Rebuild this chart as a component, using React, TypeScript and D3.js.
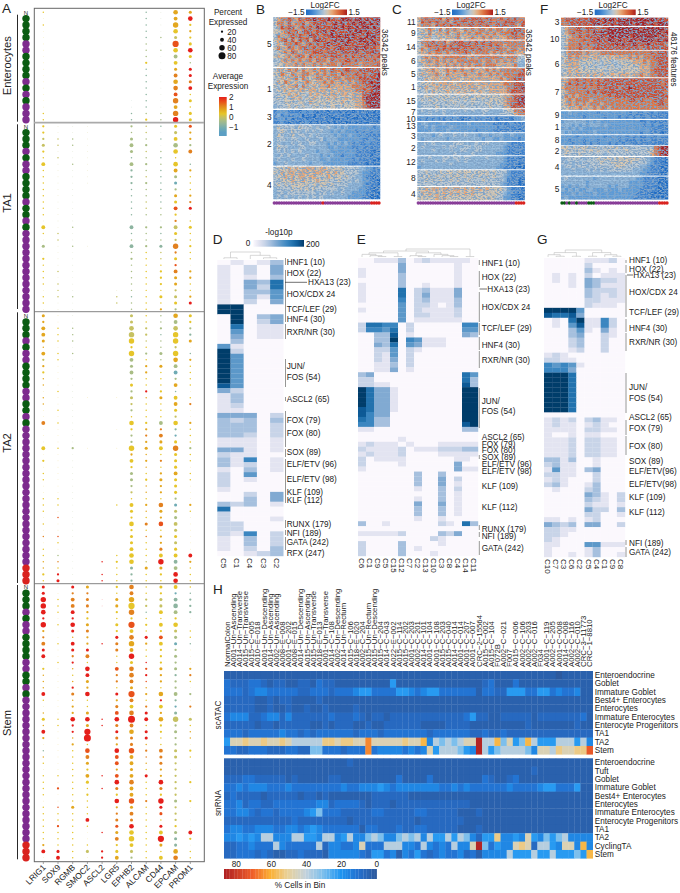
import React from "react";
import * as d3 from "d3";

const FONT = "'Liberation Sans', Arial, sans-serif";

// ---------- Panel A: dot plot ----------
const genes = ["LRIG1","SOX9","RGMB","SMOC2","ASCL2","LGR5","EPHB2","ALCAM","CD44","EPCAM","PROM1"];
const facetNames = ["Enterocytes","TA1","TA2","Stem"];
const sampleEnt = "NGGGGPPGGGGPGPGPPP";
const sampleTA1 = "NGGGPGPPGGGGPGGPGPPPPPPPPPPPPP";
const sampleTA2 = "NGGGPGPPGGGGPPGGPGPPPPPPPPPPPPPPPPPPPPPPRRR";
const sampleStem = "NGGGPGPPGGGGPPGGPGPPPPPPPPPPPPPPPPPPPPPPPRRR";

// size digits: tens of percent expressed; colour digits: expression class. "." = no dot. One char = whole column.
const entSize = [
 "101000000000000011",".",".",".",".",".",
 "..............0011","111111112111111112","000010100000000011",
 "546537544345546466","352223531333413133"];
const entColor = ["5","5","5","5","5","5","2","222223335222222235","3",
 "666548535676787679","695655953997955555"];
const ta1Size = [
 "2223214111 1111104103 0211110110","0011010000 0000000110 0001011100","0011001000 0000001001 0000000100",
 "0000000000 .........0 ..........",".",".......... .......... ......011.",
 "2134314222 1111104114 1211111111","1112112112 1111102112 1111111111","1010111111 1111102113 1112221312",
 "3345515433 2334224326 2324332332","3222401211 1223013112 1102211230"];
const ta1Color = [
 "5544555555 5555555553 5555555555","4","3","4","4","4",
 "3333323222 2222222232 3333333233","4433433343 3344333333 5555555555","2222323222 2223323232 4455555556",
 "5453555631 3658574547 7587664453","8663752655 5679555555 5556655695"];
const ta2Size = [
 "3244314222 1101100400 0402011001 1101010111 121","0011101100 0010010100 0100000001 1010011011 123",
 "0011101000 0000000000 0200000000 0000000000 000",".......... ...0...... .0........ .......... ...",
 ".......... .......... .......... .........1 .11",".......... ...0....0. .0........ 1....... 12 111",
 "3356626434 2323221522 2624233221 4325233455 322","1122112122 1121111222 2312112111 2113111111 311",
 "1121113131 1123111424 3412123221 5325122346 321","5456626544 2414432522 3633343332 3334333344 455",
 "3222301211 1101200211 1211011000 2100000042 111"];
const ta2Color = [
 "6666666465 6656655755 5555555555 5555575556 655","5555555555 5555555555 5555555555 5585585537 599","3","5","9","5",
 "4444555333 3534435553 3565533345 5555555555 222","5544453566 5596555567 6666655665 6657575554 655",
 "3332333365 5556555377 6557566665 7668566759 655","6345545631 3625654521 5755565553 1434454552 399",
 "5532652655 5555755655 5355555555 6555555596 555"];
const stemSize = [
 "3366526224 3402111410 1314201110 1111011111 1240","0011101001 0010000000 0110000000 1020011121 1134",
 "3244425314 3221112312 2522121111 1111131111 1111","3233223322 3415432511 3537815432 4312111410 0130",
 "..00.....1 .......... .11....... 1.1......1 ..22","2133213233 3114221323 4533325442 4532522333 4234",
 "5467627456 4635543744 5845336443 4544634355 6432","1122112132 1112211212 3413312111 3111211111 1111",
 "3233414244 2223221524 2522114332 2532633134 7314","4245425333 2323222422 3623223322 2222322223 3355",
 "1122200111 0002210202 0311102100 0200200004 2011"];
const stemColor = [
 "9999999677 9955666955 6569652655 5555555555 5695","5555555555 5555555555 5555555555 5585585585 5599",
 "9777999969 9796569766 6999665555 5555565555 5555","6777656766 9759966955 6969958765 6555555955 5545",
 "9","5566555597 7558775967 8979769886 8975967786 7556",
 "7765758576 6957776875 7976778666 6766867795 5543","5544255596 5598986657 9969967765 9555755555 5555",
 "5544555585 5556665695 6655557776 6975998595 9655","5122355431 3333233321 2433334444 4444344453 2267",
 "5222255552 5556755357 5456655555 5555555559 5555"];

const exprDomain = [-1.6,-1.2,-0.8,-0.4,-0.05,0.3,0.7,1.1,1.5,2];
const exprColors = ["#5c9fc4","#6fabb4","#8db4a0","#a9bd85","#c6c162","#e6c52a","#e3a71f","#e2811f","#e8521b","#e51f1b"];

// ---------- Panels B, C, F: log2FC heatmaps (one string = one row, digits = fold-change class) ----------
const b5 = ["467787687889888988899989989899","577686778678889789898898998989","468788678787988889898989899898","556787868887889798888989989889","476678787798878898989898889998","567868687868988789898988998988","465777876787878988889888889898","576687678878788878988889898887","456768767778887888798889788898","565676787687778788878787887878","446767676776877687778878778787","455666767667676777687777677778"];
const b1 = ["466576757667677687778877888888","557657667766767677687778787889","456566757656776767767777888889","465765656765667676676767788989","546566747656566766666677778899","455656566566566565666667787899","445565655465656566566566688999","454546564556555656556566689999","444555455465555555565556679999","344454545445545455455556678999"];
const b3 = ["122211102121011011010101100101","131211210110101001101010010000","122120111010110100010100100010","112101101201001010100010010100"];
const b2 = ["354444354443433432323222222212","345435443434343323232221212121","354345344343433332322322121111","344434433433342333222222211211","343334343344333232323212112111","354433344333333223222211211111","343434343333233322222221111100","334343333433323232212221111011","343334334333322322222212111100","233433333323332222222111110100"];
const b4 = ["455565656666566555554444332211","546566566656665656554444322111","455656566566555655545443321101","445556556555655544544434322110","454545555545455454444333321110","344445454545444444343333221100","344344444444344343343322221100","343434343434343333333222211000"];
const bClusters = [b5,b1,b3,b2,b4];
const bIds = ["5","1","3","2","4"];

const c11 = ["678787868788788888788778787877","587878778687887878878787888878","677768787878778878787788878768"];
const c9 = ["556764757676576767767677677887","465756667567667677676767778878","556645656667566766767666677877"];
const c14 = ["577787786788878787878777777777","467878787878888787878787677777","576778787888787878777787767767","566767767677787677776767677666"];
const c6 = ["467677677777776767777777677754","566767676767777777677676767643","456667667676767677677766666733"];
const c5 = ["456676567676766766676767777778","565667657666676667667676777788","446566566666566666666667677888"];
const c1 = ["455565666656666656666666777888","546556565665656665656666677889","445465556556565656556666678888"];
const c15 = ["445554555454555455555555667889","454545454545454554545555677899","344454445454444544455455678899","344445444444544444445444668888"];
const c7 = ["343434343334343433443333455778","333433343343333333433334445677"];
const c10 = ["121212112121011211211101110223"];
const c13 = ["233222232222223222222111112111","223232222322222222222212111111","222232223222222212222111111101"];
const c3 = ["333323433343343332332333223222","323333332333333333233223222212"];
const c2 = ["334343333344433343443333321111","343333343443344344333333211101","333343333433443344333333211111","333333333343333433333322211101"];
const c12 = ["333433344344344333343333211100","343334343334343333333333211111","333333333433333333333332211100","233333333333333333333322111000"];
const c8 = ["445444545545555455554544421111","454545454555454545454544321111","445454544545445444544444311100","444444444444444444444443211100"];
const c4 = ["556566566566565656565555421110","465656565656565655555554321101","555556565555555555555544221100"];
const cClusters = [c11,c9,c14,c6,c5,c1,c15,c7,c10,c13,c3,c2,c12,c8,c4];
const cIds = ["11","9","14","6","5","1","15","7","10","13","3","2","12","8","4"];

const f3 = ["788888889898999899999999999898","778888888998989899998999898999"];
const f10 = ["467788788878899999999989999998","467878787989999999999999999989","556778788889899999989999999898","467777878898899898899899998989","457778787888888989889888988887","467778777888888888888878888888"];
const f6 = ["467777676667777777777777787888","557676665665565666676767778888","466665555454554455556667677888","556665454544545445555566677888","456565555555455555555566678888","556566565656556566656676677888"];
const f7 = ["667787878787888888888888888878","578787878788888888888888888878","677777877787888878898888888888","567777787878888888888888888887","576767777777787888888888888888","567677776777777777788787778887","567676767776777777777777777887","556667666767767777777777777777"];
const f9 = ["223222222212222222212112112111","222222122222122212121211211111"];
const f1 = ["233333323232222222222211211111","333232323332322222222221212111","232323222222222222222222211111","323222222322222222222212211101"];
const f8 = ["222212222222121212121211211211","221222122212222212111211211111","222122121212212121211111111111"];
const f2 = ["554545554544545545444444447899","455454545454454444544444557899","454445444444344444444444467899"];
const f4 = ["344444344454554555555544321110","434343444445445555554444321100","344344434444444555444433211100","333433343434344444443332211100","333333333333333333333322111000"];
const f5 = ["343333333233333333333221111000","333333323333333333322221111000","232323323333323233322221111000","323232233222322232222211111000","222323222322222222222111100000","232222222222222222221111100000"];
const fClusters = [f3,f10,f6,f7,f9,f1,f8,f2,f4,f5];
const fIds = ["3","10","6","7","9","1","8","2","4","5"];

const stripB = "PPPPPPPPPPPPPPPPPPPPRPPPPPPPPPPPPPPPPPPPRRRR";
const stripC = "PPPPPPPPPPPPPPPPPPPPPPPPPPPPPPPPPPPPPPPPRRRR";
const stripF = "GGPGPPGPPPPGGGPPPPPPPPPPPPPPPPPPPPPPPPPPRRRR";

const fcDomain = [-1.5,-1.1,-0.8,-0.45,-0.15,0.1,0.4,0.8,1.15,1.5];
const fcColors = ["#1f6cc4","#3c80cd","#5c9ad6","#8eb5d8","#b9c6d0","#d4c4ae","#e6a878","#dc7444","#cc4a2c","#a81f1f"];

// ---------- Panels D, E, G: motif enrichment (-log10p classes) ----------
const motifD = ["01013","10204","10204","10103","10437","10427","10335","10315","10204","99000","99000","09034","09024","07011","05011","04011","03000","51000","92000","95000","95000","95000","95000","95000","95000","85000","42000","13000","13000","12000","11000","44402","32303","33302","33302","33202","11101","11101","44101","21100","31601","31201","10301","20500","20100","20000","10000","00204","00304","32301","70000","20000","20001","22000","22000","21602","10302","10302","10203","00123"];
const motifE = [
"001113012111110","000004000000100","100004000000100","100003000000100","000003000000100","100003001000100",
"100007023111400","100007024111400","100006023111300","000005022101300","100005021111200","000005022111200","000005011111100",
"277660200000066","266570200000055","003380100000043","003390651110000","004370541110000","002250210000000","002150200000000","002140200000000","001130200000000","001140100000000",
"340000000000075","220000000000073","221100000000083",
"974410000000099","974410000000099","974410000000099","974410000000099","874410000000099","864400000000099","763300000000099","663300000000089",
"110000000000033","000000000000000","000001000000000","121110100011111","211112011122233","121112000011111","201111000000110","200001000000400","100000000000411",
"000000030030000","000000030040200","000000030040100","000000010030200","000000000030100","000000010030100","000000040040100","000000030030100",
"000000030030100","000000010010000","300100000021073","000000000000000","111112000032400","000000000210000","200003000010000","200003010000000","200003000100000"];
const motifG = ["0000011120","0000020000","0000031010","0101020111","0101043221","0001043111","0000032221","0000032121","0000022111","0000021110","9999500000","8778400000","0107911620","0105811620","0003510410","0003400210","0002300200","0002300200","0001200200","1210000000","2211000000","6565100000","6664000000","9997000000","9997000000","9997000000","9997000000","9997000000","9997000000","9997000000","9997000000","0000000000","1212023110","1211012100","1111022110","1001011000","1112022110","1112022110","1112022110","1112022110","3313001000","2311001000","1511034000","2211002000","1210002000","2310013000","0100023000","0000043102","0000032102","0000021101","0000042203","0000022001","1101012000","4323044002","2211000000","2210000000","2100000000","1100055111","1000013000","1001013001"];
const colsD = ["C5","C1","C4","C3","C2"];
const colsE = ["C6","C1","C9","C5","C15","C12","C7","C2","C13","C10","C3","C8","C4","C14","C11"];
const colsG = ["C10","C7","C3","C6","C2","C5","C4","C1","C9","C8"];
const motifStops = ["#fbf8fd","#e3e4f1","#c8d4e8","#a6c0de","#81aad2","#5c98c9","#3b86c0","#2272ae","#0f5a96","#053c6b"];

const labelsD: [string,number][] = [["HNF1 (10)",261.7],["HOX (22)",273],["HOX/CDX 24",293.7],["TCF/LEF (29)",309],["HNF4 (30)",318.7],["RXR/NR (30)",332],["JUN/",365.7],["FOS (54)",376.7],["ASCL2 (65)",399],["FOX (79)",419.7],["FOX (80)",433.3],["SOX (89)",452.3],["ELF/ETV (96)",463.7],["ELF/ETV (98)",479.3],["KLF (109)",492.3],["KLF (112)",499.7],["RUNX (179)",524],["NFI (189)",533.3],["GATA (242)",542.3],["RFX (247)",553.3]];
const labelsE: [string,number][] = [["HNF1 (10)",262.7],["HOX (22)",277.3],["HOX/CDX 24",306.7],["TCF/LEF (29)",328.3],["HNF4 (30)",344.7],["RXR/NR (30)",359.7],["JUN/",400.7],["FOS (54)",411],["ASCL2 (65)",437.3],["FOX (79)",444],["FOX (80)",450.3],["SOX (89)",457],["ELF/ETV (96)",464],["ELF/ETV (98)",470.7],["KLF (109)",486],["KLF (112)",507],["RUNX (179)",529],["NFI (189)",535.7],["GATA (242)",548.3]];
const labelsG: [string,number][] = [["HNF1 (10)",260.3],["HOX (22)",268.7],["HOX/CDX 24",291.7],["TCF/LEF (29)",312],["HNF4 (30)",328],["RXR/NR (30)",342],["JUN/",387.3],["FOS (54)",397.7],["ASCL2 (65)",417.3],["FOX (79)",428.3],["FOX (80)",445.7],["SOX (89)",460.7],["ELF/ETV(96)",471.3],["ELF/ETV(98)",484],["KLF (109)",497],["KLF (112)",511.7],["NFI (189)",542.7],["GATA (242)",551.7]];
const barsD = [[258,265],[270,305],[305,322],[324,339],[359,387],[397,401],[411,427],[427,447],[449,457],[459,489],[489,503],[520,528],[530,535],[537,550]];
const barsE = [[260,265],[271,287],[292,322],[323,335],[337,350],[351,368],[388,428],[455,459],[525,530],[532,537],[541,555]];
const barsG = [[260,263],[265,273],[275,307],[307,317],[319,332],[333,351],[373,413],[420,435],[436,455],[540,545],[547,557]];

// ---------- Panel H ----------
const samples = ["NormalColon","A001−Un−Ascending","A014−Un−Transverse","A015−Un−Transverse","A015−C−005","A010−E−018","A001−Un−Descending","A014−Un−Ascending","A002−Un−Ascending","A008−E−008","A001−C−202","A008−E−015","A014−Un−Descending","A015−Un−Ascending","A015−Un−Transverse","A018−E−013","A001−Un−Transverse","A014−C−108","A002−Un−Descending","A014−Un−Rectum","A015−C−106","A018−E−020","A002−C−204","A015−Un−Rectum","A015−Un−Descending","A015−C−204","A014−C−043","A022−E−002","A015−C−114","A015−C−202","A001−C−203","A002−C−201","A014−C−101","A001−C−104","A001−C−108","A015−C−203","A015−C−040","A014−C−014","A001−C−014","A001−C−207","A001−C−007","CRC−2−15564","A015−C−002","A015−C−104","F072B","A002−C−021","F007","A015−C−006","A002−C−106","A002−C−203","A002−C−016","F034","A001−C−119","A002−C−205","A001−C−008","A014−C−008","A002−C−116","A002−C−010","CRC−3−11773","CRC−1−8810"];
const atacRows = ["Enteroendocrine","Goblet","Immature Goblet","Best4+ Enterocytes","Enterocytes","Immature Enterocytes","Enterocyte Progenitors","TA1","TA2","Stem"];
const atacCells = [
"1111111111 1111111111 1111111111 1111111111 1111111111 1111011111",
"3222332122 1122132211 1111111511 1111111111 1123111311 1111111111",
"3332344333 3322333233 3455333355 4345533333 3133225553 3553433411",
"2222211212 2111121111 1111111111 1111111111 1111111111 1111111111",
"2222211211 2112112111 1211111111 1111111111 1111111111 1111111111",
"3444223442 4222222322 2321221222 2222222223 5221122222 1222222231",
"2222212212 2222112122 2112112222 2211112222 1111111112 1111111211",
"3332333334 3323233333 3233323333 3332333333 2232232222 2222222222",
"5889889889 8777779989 988b888889 88a4767678 8d77a6856a 7555777574",
"3322333222 3322663332 333b344443 4348577765 4d75677776 488798899c"];
const rnaRows = ["Enteroendocrine","Tuft","Goblet","Immature Goblet","Best4+ Enterocytes","Enterocytes","Immature Enterocytes","Enterocyte Progenitors","TA1","TA2","CyclingTA","Stem"];
const rnaCells = [
"1111111111 1111111111 2111111111 1111111111 1111111111 1111111111",
"1111111111 1111111111 1111111111 1111111111 1111111111 2111111111",
"2223322222 1211111221 1111111131 1113111111 1132112311 1111111111",
"3343444333 4333333334 3344454344 4444433434 3333334333 3455333511",
"2322221222 2212212111 1111222222 1111111111 1111111111 1111111111",
"3342332233 3333344233 3321222122 2222222222 1111111111 1111111111",
"3344323323 3334563332 2222332222 2332222211 1211111111 1111111111",
"2222222222 2322222222 1222222222 2122222221 1111111111 1111111111",
"3443344433 4434543333 3313322232 2332222211 1211111111 1111111111",
"4454547744 4775547745 7446764467 6747557576 4255944548 5465674444",
"2233433374 3333372443 3483337774 4374343744 8d63544898 27754884a4",
"2233323211 2232221444 4432553414 3532343342 3144447555 755755565a"];
const cellLevels = [0,3,7,11,16,21,30,38,46,52,58,65,72,85];
const cellDomain = [0,10,20,30,40,50,60,70,87];
const cellColors = ["#2d5a9e","#2470cf","#1e96f2","#7dbfec","#c4d2dc","#e8d19a","#fbb034","#f0602a","#ab1c22"];
const cellTicks = [80,60,40,20,0];

const sampleFill: Record<string,string> = { G:"#0a5c12", P:"#7d2b8e", R:"#d9231f" };

const clean = (s: string) => s.replace(/\s/g,"");
const Txt = (p: any) => <text fontFamily={FONT} fontSize={8.2} fill="#222" {...p} />;

function rowsOf(s: string, n: number): (number|null)[] {
  const t = clean(s);
  return d3.range(n).map((i) => {
    const ch = t.length === 1 ? t : t[i] ?? "0";
    return ch === "." ? null : +ch;
  });
}

function DotPanel() {
  const x = d3.scalePoint<string>().domain(genes).range([43.3,190.3]);
  const r = d3.scaleLinear().domain([0,80]).range([0.35,3.5]);
  const color = d3.scaleLinear<string>().domain(exprDomain).range(exprColors).clamp(true);
  const facets = [
    { samples: sampleEnt, size: entSize, col: entColor, y0: 12.3, y1: 119.7, bar: [14.7,121.7] },
    { samples: sampleTA1, size: ta1Size, col: ta1Color, y0: 126.3, y1: 309.3, bar: [124.3,309] },
    { samples: sampleTA2, size: ta2Size, col: ta2Color, y0: 315.7, y1: 580.7, bar: [312.3,583] },
    { samples: sampleStem, size: stemSize, col: stemColor, y0: 587, y1: 857.7, bar: [585,859.3] },
  ];
  const centers = [65.7,203,443,723];
  return (
    <g>
      {facets.map((f, fi) => {
        const n = f.samples.length;
        const y = d3.scaleLinear().domain([0,n-1]).range([f.y0,f.y1]);
        return (
          <g key={fi}>
            <line x1={17.5} x2={17.5} y1={f.bar[0]} y2={f.bar[1]} stroke="#111" strokeWidth={0.9} />
            {f.samples.split("").map((s, i) =>
              s === "N" ? (
                <Txt key={i} x={26} y={y(i)+2.2} fontSize={6} textAnchor="middle">N</Txt>
              ) : (
                <circle key={i} cx={26} cy={y(i)} r={3.7} fill={sampleFill[s]} />
              )
            )}
            {genes.map((g, gi) => {
              const ss = rowsOf(f.size[gi], n);
              const cs = rowsOf(f.col[gi], n);
              return ss.map((sv, i) =>
                sv === null ? null : (
                  <circle key={g+i} cx={x(g)!} cy={y(i)} r={r(sv*10)} fill={color(exprDomain[cs[i] ?? 5])} fillOpacity={sv===0?0.55:1} />
                )
              );
            })}
            <Txt x={0} y={0} fontSize={11.2} textAnchor="middle" transform={`translate(11,${centers[fi]}) rotate(-90)`}>{facetNames[fi]}</Txt>
          </g>
        );
      })}
      <rect x={34.3} y={8.3} width={170} height={853.4} fill="none" stroke="#666" strokeWidth={1} />
      <line x1={34} x2={204} y1={122.7} y2={122.7} stroke="#aaa" strokeWidth={1.8} />
      <line x1={34} x2={204} y1={311.7} y2={311.7} stroke="#777" strokeWidth={0.9} />
      <line x1={34} x2={204} y1={583.7} y2={583.7} stroke="#777" strokeWidth={0.9} />
      {genes.map((g) => (
        <g key={g}>
          <line x1={x(g)!} x2={x(g)!} y1={862} y2={864} stroke="#666" strokeWidth={0.6} />
          <Txt textAnchor="end" fontSize={8.4} transform={`translate(${x(g)!+3},${868}) rotate(-45)`}>{g}</Txt>
        </g>
      ))}
    </g>
  );
}

function DotLegend() {
  const r = d3.scaleLinear().domain([0,80]).range([0.35,3.5]);
  const sizes = [20,40,60,80];
  const ey = d3.scaleLinear().domain([2,-1]).range([97,126.7]);
  return (
    <g>
      <Txt x={228} y={15} textAnchor="middle">Percent</Txt>
      <Txt x={228} y={25} textAnchor="middle">Expressed</Txt>
      {sizes.map((s,i) => (
        <g key={s}>
          <circle cx={222} cy={31.7+i*8} r={r(s)} fill="#111" />
          <Txt x={227.3} y={34.7+i*8}>{s}</Txt>
        </g>
      ))}
      <Txt x={228} y={78.5} textAnchor="middle">Average</Txt>
      <Txt x={228} y={88.5} textAnchor="middle">Expression</Txt>
      <defs>
        <linearGradient id="exprG" x1="0" y1="1" x2="0" y2="0">
          {exprDomain.map((d,i) => <stop key={i} offset={(d+1.95)/3.95} stopColor={exprColors[i]} />)}
        </linearGradient>
      </defs>
      <rect x={219} y={97} width={7.7} height={39} fill="url(#exprG)" />
      {[2,1,0,-1].map((t) => (
        <Txt key={t} x={229} y={ey(t)+3}>{t<0?`−${-t}`:t}</Txt>
      ))}
    </g>
  );
}

function FCLegend({ barX, midX }: { barX: number; midX: number }) {
  return (
    <g>
      <Txt x={midX} y={7.8} textAnchor="middle">Log2FC</Txt>
      <Txt x={barX-1.5} y={15} textAnchor="end">−1.5</Txt>
      <rect x={barX} y={9.5} width={41} height={5.6} fill="url(#fcG)" />
      <Txt x={barX+42.5} y={15}>1.5</Txt>
    </g>
  );
}

function FCHeatmap({ clusters, ids, extents, labelYs, x0, x1, strip, side, sideX, sideY }: any) {
  const nCol = clusters[0][0].length;
  const x = d3.scaleBand<number>().domain(d3.range(nCol)).range([x0,x1]);
  const color = d3.scaleLinear<string>().domain(fcDomain).range(fcColors);
  const sx = d3.scalePoint<number>().domain(d3.range(strip.length)).range([x0+1,x1-1]);
  return (
    <g>
      <g filter="url(#grain)">
        {clusters.map((rows: string[], k: number) => {
          const y = d3.scaleBand<number>().domain(d3.range(rows.length)).range(extents[k]);
          return rows.map((row, ri) =>
            row.split("").map((ch, ci) => (
              <rect key={k+"_"+ri+"_"+ci} x={x(ci)!} y={y(ri)!} width={x.bandwidth()+0.2} height={y.bandwidth()+0.2} fill={color(fcDomain[+ch])} />
            ))
          );
        })}
      </g>
      {ids.map((id: string, k: number) => (
        <Txt key={id} x={x0-1.6} y={labelYs[k]+3} textAnchor="end" fontSize={8.4}>{id}</Txt>
      ))}
      {strip.split("").map((s: string, i: number) => (
        <circle key={i} cx={sx(i)!} cy={203} r={1.7} fill={sampleFill[s]} opacity={s==="P"?0.9:1} />
      ))}
      <Txt transform={`translate(${sideX},${sideY}) rotate(90)`} fontSize={8.2}>{side}</Txt>
    </g>
  );
}

function Dendro({ tree, x, yBase, h }: any) {
  const segs: [number,number][][] = [];
  const height = (n: any): number => (typeof n === "number" ? 0 : 1 + Math.max(height(n[0]), height(n[1])));
  const H = height(tree);
  const yh = d3.scalePow().exponent(1.6).domain([0,H]).range([yBase,yBase-h]);
  const walk = (n: any): [number,number] => {
    if (typeof n === "number") return [x(n), yBase];
    const a = walk(n[0]), b = walk(n[1]);
    const y = yh(height(n));
    segs.push([[a[0],a[1]],[a[0],y],[b[0],y],[b[0],b[1]]]);
    return [(a[0]+b[0])/2, y];
  };
  walk(tree);
  const line = d3.line();
  return <g>{segs.map((s,i) => <path key={i} d={line(s)!} fill="none" stroke="#bdbdbd" strokeWidth={0.6} />)}</g>;
}

function MotifHeatmap({ data, cols, x0, x1, y0, y1, tree, labels, labelX, bars, barX, hxa, dendH }: any) {
  const x = d3.scaleBand<string>().domain(cols).range([x0,x1]);
  const y = d3.scaleBand<number>().domain(d3.range(data.length)).range([y0,y1]);
  const color = d3.scaleLinear<string>().domain(d3.range(10)).range(motifStops);
  const xc = (i: number) => x(cols[i])! + x.bandwidth()/2;
  return (
    <g>
      <g filter="url(#soft)">
        {data.map((row: string, ri: number) =>
          row.split("").map((ch, ci) => (
            <rect key={ri+"_"+ci} x={x(cols[ci])!} y={y(ri)!} width={x.bandwidth()+0.2} height={y.bandwidth()+0.2} fill={color(+ch)} />
          ))
        )}
      </g>
      <Dendro tree={tree} x={xc} yBase={y0-1} h={dendH} />
      {cols.map((c: string) => (
        <Txt key={c} fontSize={8} transform={`translate(${x(c)!+x.bandwidth()/2-3},${y1+2}) rotate(90)`}>{c}</Txt>
      ))}
      {bars.map((b: number[], i: number) => (
        <line key={i} x1={barX} x2={barX} y1={b[0]} y2={b[1]} stroke="#8a8a8a" strokeWidth={0.9} />
      ))}
      {labels.map((l: [string,number]) => (
        <Txt key={l[0]+l[1]} x={labelX} y={l[1]+3}>{l[0]}</Txt>
      ))}
      <line x1={hxa[0]} x2={hxa[1]} y1={hxa[3]} y2={hxa[3]} stroke="#333" strokeWidth={0.7} />
      <Txt x={hxa[2]} y={hxa[3]+3}>HXA13 (23)</Txt>
    </g>
  );
}

function CellBlock({ rows, cells, y0, y1, title, titleY }: any) {
  const x = d3.scaleBand<number>().domain(d3.range(samples.length)).range([224,592.7]);
  const y = d3.scaleBand<string>().domain(rows).range([y0,y1]);
  const color = d3.scaleLinear<string>().domain(cellDomain).range(cellColors);
  return (
    <g>
      {rows.map((r: string, ri: number) => {
        const t = clean(cells[ri]);
        return (
          <g key={r}>
            {d3.range(samples.length).map((ci) => (
              <rect key={ci} x={x(ci)!} y={y(r)!} width={x.bandwidth()+0.3} height={y.bandwidth()+0.3}
                fill={color(cellLevels[parseInt(t[ci] ?? "1",16)])} />
            ))}
            <Txt x={594.7} y={y(r)!+y.bandwidth()/2+3}>{r}</Txt>
          </g>
        );
      })}
      <Txt textAnchor="middle" transform={`translate(221,${titleY}) rotate(-90)`}>{title}</Txt>
    </g>
  );
}

function PanelH() {
  const x = d3.scaleBand<number>().domain(d3.range(samples.length)).range([224,592.7]);
  const legendX = d3.scaleLinear().domain([0,87]).range([376.7,224]);
  const color = d3.scaleLinear<string>().domain(cellDomain).range(cellColors);
  const legendCells = d3.range(0,87,1.5);
  return (
    <g>
      {samples.map((s,i) => (
        <Txt key={i} fontSize={7.8} transform={`translate(${x(i)!+x.bandwidth()/2+2.6},667) rotate(-90)`}>{s}</Txt>
      ))}
      <CellBlock rows={atacRows} cells={atacCells} y0={671} y1={754.3} title="scATAC" titleY={715} />
      <CellBlock rows={rnaRows} cells={rnaCells} y0={758.3} y1={858.3} title="snRNA" titleY={803} />
      {legendCells.map((v) => (
        <rect key={v} x={legendX(v+1.5)} y={869} width={legendX(v)-legendX(v+1.5)+0.2} height={10} fill={color(v)} />
      ))}
      {cellTicks.map((t) => (
        <Txt key={t} x={legendX(t)} y={867} textAnchor="middle">{t}</Txt>
      ))}
      <Txt x={300} y={888} textAnchor="middle">% Cells in Bin</Txt>
    </g>
  );
}

const bExtents = [[17.3,66.7],[68,108.3],[110,124],[125.3,165.3],[166.7,199]];
const bLabelY = [43.7,89.3,116.7,144.3,185];
const cExtents = [[17.3,26.7],[28,39.3],[40.7,54.3],[55.7,67],[68.3,80.7],[82,93.3],[94.7,108],[109.3,115],[116.3,120.7],[122,132],[133.3,140.7],[142,155],[156.3,169],[170.3,185.7],[187,200]];
const cLabelY = [22.3,33,47.3,61.3,74,86.7,101,111.7,118.7,126.3,135.7,147.7,162,177.7,193.7];
const fExtents = [[17.7,25.7],[27,50],[51,77],[78.3,109.7],[111.3,118.7],[120,134],[135.3,145],[146,155.7],[157,175.3],[176.7,199.3]];
const fLabelY = [21.7,38.7,64,92.3,114.7,127,139.7,150.7,167,188.7];

export default function App() {
  return (
    <svg width={680} height={893} viewBox="0 0 680 893" style={{ position:"fixed", left:0, top:0, background:"#fff" }}>
      <defs>
        <filter id="soft" x="-2%" y="-2%" width="104%" height="104%"><feGaussianBlur stdDeviation="0.45" /></filter>
        <filter id="grain" x="0" y="0" width="1" height="1" colorInterpolationFilters="sRGB">
          <feTurbulence type="fractalNoise" baseFrequency="0.42 0.75" numOctaves="2" seed="7" result="n" />
          <feColorMatrix in="n" type="matrix" values="0 0 0 0 0.5  0 0 0 0 0.64  0 0 0 0 0.78  4.5 0 0 0 -1.9" result="cool" />
          <feComposite in="cool" in2="SourceGraphic" operator="in" result="coolIn" />
          <feColorMatrix in="n" type="matrix" values="0 0 0 0 0.66  0 0 0 0 0.2  0 0 0 0 0.18  0 3 0 0 -1.45" result="warm" />
          <feComposite in="warm" in2="SourceGraphic" operator="arithmetic" k1="0" k2="0" k3="0" k4="0" result="unused" />
          <feMerge result="m"><feMergeNode in="SourceGraphic" /><feMergeNode in="coolIn" /></feMerge>
          <feGaussianBlur in="m" stdDeviation="0.32" />
        </filter>
        <linearGradient id="fcG">
          {fcDomain.map((d,i) => <stop key={i} offset={(d+1.5)/3} stopColor={fcColors[i]} />)}
        </linearGradient>
        <linearGradient id="mG">
          {motifStops.map((c,i) => <stop key={i} offset={i/9} stopColor={c} />)}
        </linearGradient>
      </defs>
      {[["A",2,13],["B",256,13.7],["C",392,13.7],["F",540,13.7],["D",212.7,244],["E",356.7,244],["G",537,244],["H",213,594]].map(([l,x,y]) => (
        <Txt key={l as string} x={x} y={y} fontSize={13.5}>{l}</Txt>
      ))}
      <DotPanel />
      <DotLegend />
      <FCLegend barX={306} midX={325} />
      <FCLegend barX={452} midX={471} />
      <FCLegend barX={594.7} midX={613} />
      <FCHeatmap clusters={bClusters} ids={bIds} extents={bExtents} labelYs={bLabelY} x0={273.3} x1={380} strip={stripB} side="36342 peaks" sideX={381.5} sideY={29} />
      <FCHeatmap clusters={cClusters} ids={cIds} extents={cExtents} labelYs={cLabelY} x0={417.3} x1={524.7} strip={stripC} side="36342 peaks" sideX={526} sideY={29} />
      <FCHeatmap clusters={fClusters} ids={fIds} extents={fExtents} labelYs={fLabelY} x0={561} x1={668} strip={stripF} side="48176 features" sideX={671} sideY={32} />
      <Txt x={279} y={235} textAnchor="middle">-log10p</Txt>
      <Txt x={248} y={246} textAnchor="middle">0</Txt>
      <rect x={253.3} y={240} width={50.7} height={6.7} fill="url(#mG)" />
      <Txt x={306} y={246.5}>200</Txt>
      <MotifHeatmap data={motifD} cols={colsD} x0={217.3} x1={283.3} y0={260} y1={556} tree={[[0,1],[2,[3,4]]]} labels={labelsD} labelX={286.7} bars={barsD} barX={285.5} hxa={[285,307,308,282.3]} dendH={7} />
      <MotifHeatmap data={motifE} cols={colsE} x0={358} x1={478} y0={258} y1={556} tree={[[[[0,[1,[2,3]]],[4,5]],[[6,[7,8]],[9,[10,[11,12]]]]],[13,14]]} labels={labelsE} labelX={481.7} bars={barsE} barX={479.3} hxa={[479.5,487,487.3,289]} dendH={8} />
      <MotifHeatmap data={motifG} cols={colsG} x0={544} x1={625} y0={258} y1={557} tree={[[[0,[1,2]],[3,4]],[[5,6],[7,[8,9]]]]} labels={labelsG} labelX={629} bars={barsG} barX={626} hxa={[627,633,633.3,275]} dendH={7} />
      <PanelH />
    </svg>
  );
}
